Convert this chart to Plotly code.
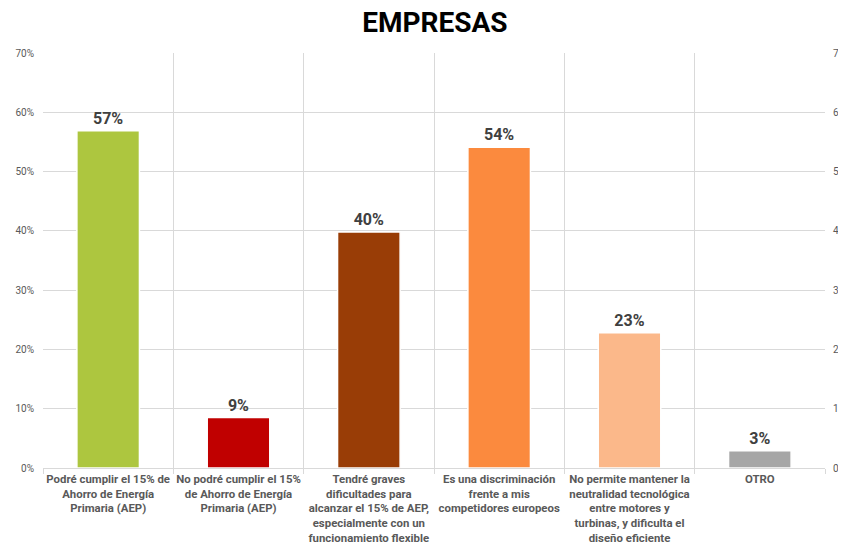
import plotly.graph_objects as go

categories = [
    "Podré cumplir el 15% de<br>Ahorro de Energía<br>Primaria (AEP)",
    "No podré cumplir el 15%<br>de Ahorro de Energía<br>Primaria (AEP)",
    "Tendré graves<br>dificultades para<br>alcanzar el 15% de AEP,<br>especialmente con un<br>funcionamiento flexible",
    "Es una discriminación<br>frente a mis<br>competidores europeos",
    "No permite mantener la<br>neutralidad tecnológica<br>entre motores y<br>turbinas, y dificulta el<br>diseño eficiente",
    "OTRO",
]
values = [0.569, 0.085, 0.398, 0.541, 0.228, 0.029]
value_labels = ["57%", "9%", "40%", "54%", "23%", "3%"]
colors = ["#ADC63F", "#C00000", "#993D06", "#FB8A3E", "#FBB88A", "#A6A6A6"]
y_ticks = [0, 0.1, 0.2, 0.3, 0.4, 0.5, 0.6, 0.7]

fig = go.Figure()
fig.add_trace(go.Bar(
    x=categories, y=values, text=value_labels, textposition="outside",
    marker=dict(color=colors, line=dict(color="white", width=1.5)),
    width=0.48, cliponaxis=False,
    textfont=dict(family="Roboto", size=16, color="#404040", weight="bold"),
    showlegend=False,
))
# invisible trace for right axis
fig.add_trace(go.Scatter(x=[categories[0]], y=[0], yaxis="y2", mode="markers",
                         marker=dict(opacity=0), showlegend=False, hoverinfo="skip"))

grid = "#D9D9D9"
fig.update_layout(
    width=838, height=537,
    margin=dict(l=35, r=21, t=45, b=77),
    paper_bgcolor="white", plot_bgcolor="white",
    font=dict(family="Roboto", color="#595959"),
    title=dict(text="<b>EMPRESAS</b>", x=0.5095, xanchor="center", y=0.974, yanchor="middle",
               font=dict(family="Roboto", size=28, color="black")),
    xaxis=dict(type="category", tickson="boundaries", showgrid=True, gridcolor=grid, gridwidth=1,
               ticks="outside", ticklen=5, tickcolor=grid, showline=True, linecolor=grid,
               tickangle=0, automargin=False,
               tickfont=dict(family="Roboto", size=11.4, color="#595959", weight="bold"),
               range=[-0.5, 5.5], zeroline=False),
    yaxis=dict(range=[0, 0.7], tickvals=y_ticks, tickformat=".0%", showgrid=True, gridcolor=grid,
               zeroline=False, showline=False, ticks="", ticklabelstandoff=8, automargin=False,
               tickfont=dict(family="Roboto", size=10, color="#595959")),
    yaxis2=dict(range=[0, 0.7], tickvals=y_ticks, tickformat=".0%", overlaying="y", side="right",
                showgrid=False, zeroline=False, showline=False, ticks="", ticklabelstandoff=7,
                automargin=False,
                tickfont=dict(family="Roboto", size=10, color="#595959")),
    bargap=0.52,
)
fig.write_html("out.html")
